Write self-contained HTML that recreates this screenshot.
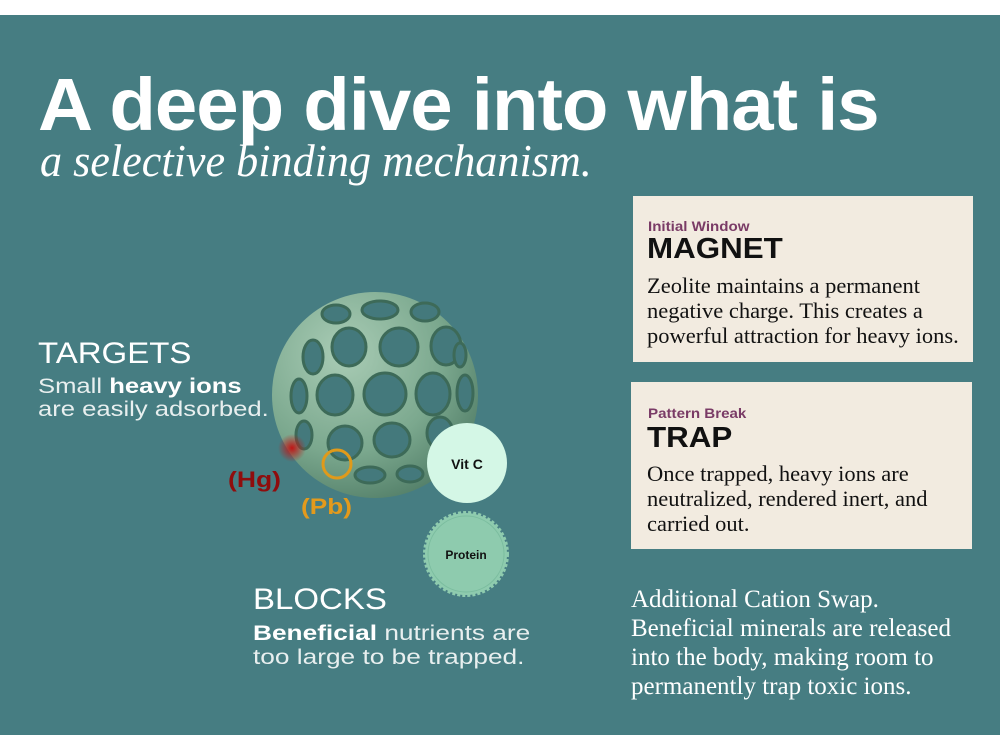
<!DOCTYPE html>
<html><head><meta charset="utf-8"><style>
*{margin:0;padding:0;box-sizing:border-box}
body{width:1000px;height:750px;background:#fff;position:relative;overflow:hidden;font-family:"Liberation Sans",sans-serif}
#bg{position:absolute;left:0;top:15px;width:1000px;height:720px;background:#467d82}
.t{position:absolute;white-space:nowrap;line-height:1;transform-origin:left top}
.box{position:absolute;background:#f2ebe0}
.serif{font-family:"Liberation Serif",serif}
</style></head><body>
<div id="bg"></div>
<div class="t" style="left:38px;top:68px;font-size:74px;font-weight:bold;color:#fff;letter-spacing:-1px;transform:scaleX(1.03)">A deep dive into what is</div>
<div class="t serif" style="left:40px;top:138px;font-size:46px;font-style:italic;color:#fff;transform:scaleX(0.96)">a selective binding mechanism.</div>

<div class="box" style="left:633px;top:196px;width:340px;height:166px"></div>
<div class="t" style="left:648px;top:219px;font-size:14px;font-weight:bold;color:#7a3b66;transform:scaleX(1.08)">Initial Window</div>
<div class="t" style="left:647px;top:235px;font-size:29px;font-weight:bold;color:#111;transform:scaleX(1.08)">MAGNET</div>
<div class="t serif" style="left:647px;top:273px;font-size:22.5px;line-height:25px;color:#111">Zeolite maintains a permanent<br>negative charge. This creates a<br>powerful attraction for heavy ions.</div>

<div class="box" style="left:631px;top:382px;width:341px;height:167px"></div>
<div class="t" style="left:648px;top:406px;font-size:14px;font-weight:bold;color:#7a3b66;transform:scaleX(1.08)">Pattern Break</div>
<div class="t" style="left:647px;top:424px;font-size:29px;font-weight:bold;color:#111;transform:scaleX(1.08)">TRAP</div>
<div class="t serif" style="left:647px;top:461px;font-size:22.5px;line-height:25px;color:#111">Once trapped, heavy ions are<br>neutralized, rendered inert, and<br>carried out.</div>

<div class="t serif" style="left:631px;top:585px;font-size:25px;line-height:29px;color:#fff">Additional Cation Swap.<br>Beneficial minerals are released<br>into the body, making room to<br>permanently trap toxic ions.</div>

<div class="t" style="left:38px;top:339px;font-size:30px;color:#fff;transform:scaleX(1.1)">TARGETS</div>
<div class="t" style="left:38px;top:375px;font-size:21px;line-height:23px;color:#e8efef;transform:scaleX(1.22)">Small <b style="color:#fff">heavy ions</b><br>are easily adsorbed.</div>

<div class="t" style="left:253px;top:585px;font-size:30px;color:#fff;transform:scaleX(1.1)">BLOCKS</div>
<div class="t" style="left:253px;top:622px;font-size:21px;line-height:24px;color:#e8efef;transform:scaleX(1.25)"><b style="color:#fff">Beneficial</b> nutrients are<br>too large to be trapped.</div>

<svg style="position:absolute;left:0;top:0" width="1000" height="750">
<defs>
<radialGradient id="g" cx="0.35" cy="0.3" r="0.8">
<stop offset="0" stop-color="#a9ccb5"/><stop offset="0.6" stop-color="#7ba88e"/><stop offset="1" stop-color="#4e7a64"/></radialGradient>
<radialGradient id="hg" cx="0.5" cy="0.5" r="0.5"><stop offset="0" stop-color="#c01515"/><stop offset="1" stop-color="#c01515" stop-opacity="0"/></radialGradient>
</defs>
<circle cx="375" cy="395" r="103" fill="url(#g)"/>
<g fill="#44797c" stroke="#3d6a58" stroke-width="3">
<ellipse cx="349" cy="347" rx="17" ry="19"/><ellipse cx="399" cy="347" rx="19" ry="19"/><ellipse cx="446" cy="346" rx="15" ry="19"/>
<ellipse cx="313" cy="357" rx="10" ry="17"/>
<ellipse cx="335" cy="395" rx="18" ry="20"/><ellipse cx="385" cy="394" rx="21" ry="21"/><ellipse cx="433" cy="394" rx="17" ry="21"/><ellipse cx="465" cy="393" rx="8" ry="18"/>
<ellipse cx="299" cy="396" rx="8" ry="17"/>
<ellipse cx="345" cy="443" rx="17" ry="17"/><ellipse cx="392" cy="440" rx="18" ry="17"/><ellipse cx="440" cy="433" rx="13" ry="16"/>
<ellipse cx="304" cy="435" rx="8" ry="14"/>
<ellipse cx="370" cy="475" rx="15" ry="8"/><ellipse cx="410" cy="474" rx="13" ry="8"/>
<ellipse cx="380" cy="310" rx="18" ry="9"/><ellipse cx="425" cy="312" rx="14" ry="9"/><ellipse cx="336" cy="314" rx="14" ry="9"/>
<ellipse cx="460" cy="355" rx="6" ry="12"/>
</g>
<circle cx="292" cy="448" r="14" fill="url(#hg)"/>
<circle cx="337" cy="464" r="14" fill="none" stroke="#e09a1a" stroke-width="3"/>
<circle cx="467" cy="463" r="40" fill="#d4f7e6"/>
<text x="467" y="469" font-family="Liberation Sans" font-weight="bold" font-size="14" text-anchor="middle" fill="#111">Vit C</text>
<circle cx="466" cy="554" r="41" fill="#8ecbae" stroke="#8ecbae" stroke-width="4" stroke-dasharray="3 2"/>
<circle cx="466" cy="554" r="38" fill="#8ecbae" stroke="#7bbd9f" stroke-width="1"/>
<text x="466" y="559" font-family="Liberation Sans" font-weight="bold" font-size="12" text-anchor="middle" fill="#111">Protein</text>
<text x="228" y="487" font-family="Liberation Sans" font-weight="bold" font-size="22" fill="#8f0d0d" textLength="53" lengthAdjust="spacingAndGlyphs">(Hg)</text>
<text x="301" y="514" font-family="Liberation Sans" font-weight="bold" font-size="22" fill="#e39a1c" textLength="51" lengthAdjust="spacingAndGlyphs">(Pb)</text>
</svg>
</body></html>
